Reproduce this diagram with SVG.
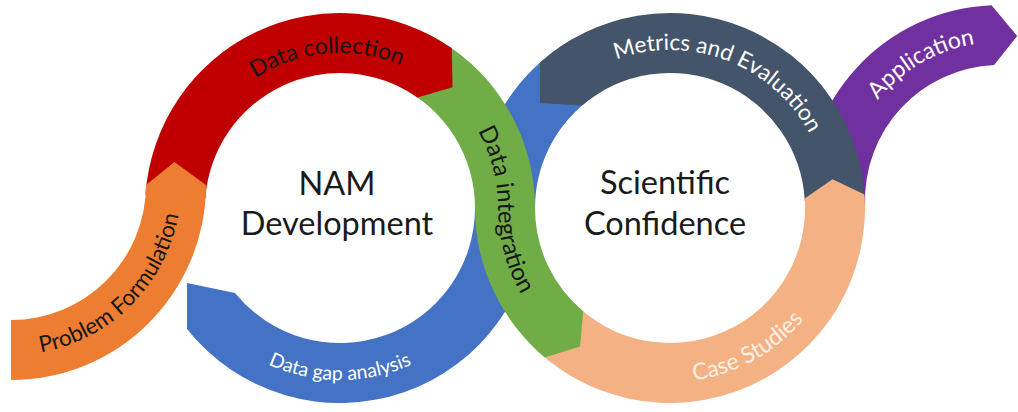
<svg xmlns="http://www.w3.org/2000/svg" xmlns:xlink="http://www.w3.org/1999/xlink" width="1018" height="412" viewBox="0 0 1018 412">
<defs>
<style>
.lbl{font-family:Lato,"Open Sans","Liberation Sans",sans-serif;font-size:22px}
.dark{fill:#161616}
.light{fill:#ffffff}
.center{font-family:Lato,"Open Sans","Liberation Sans",sans-serif;font-size:32.5px;fill:#1a1a1a;text-anchor:middle}
</style>
<path id="tp-red" d="M 240.4,89.3 A 155 155 0 0 1 417.5,73.8"/>
<path id="tp-green" d="M 476.8,129 A 158 158 0 0 1 498,208 A 172 172 0 0 0 548.4,329.6"/>
<path id="tp-blue" d="M 241.3,348.9 A 172 172 0 0 0 438.7,348.9"/>
<path id="tp-orange" d="M 25.8,354.4 A 170 170 0 0 0 180.4,199.8"/>
<path id="tp-navy" d="M 593.4,69.8 A 158 158 0 0 1 819.4,156.6"/>
<path id="tp-peach" d="M 652,381 A 174 174 0 0 0 826.4,284.3"/>
<path id="tp-purple" d="M 857,133 A 158 158 0 0 1 1013.8,42.6"/>
</defs>
<rect width="1018" height="412" fill="#ffffff"/>

<g id="application">
<path d="M 805.1,206.8 A 195 195 0 0 1 991.5,5.2 L 1017.2,35.9 L 994.1,65.1 A 135 135 0 0 0 865.1,204.7 Z" fill="#7030a0"/>
<text class="lbl light" style="font-size:23px"><textPath xlink:href="#tp-purple" href="#tp-purple" startOffset="50%" text-anchor="middle">Application</textPath></text>
</g>

<g id="data-gap-analysis">
<path d="M 187,328.9 A 195 195 0 0 0 535,208 A 135 135 0 0 1 602.5,91.1 L 572.5,39.1 A 195 195 0 0 0 475,208 A 135 135 0 0 1 235,292.9 L 187,283 Z" fill="#4472c4"/>
<text class="lbl light" style="font-size:19.5px"><textPath xlink:href="#tp-blue" href="#tp-blue" startOffset="50%" text-anchor="middle">Data gap analysis</textPath></text>
</g>

<g id="metrics-and-evaluation">
<path d="M 540,62.7 A 195 195 0 0 1 864.7,197.8 L 804.8,200.9 A 135 135 0 0 0 582,105.6 L 540,103 Z" fill="#44546a"/>
<text class="lbl light" style="font-size:22.5px"><textPath xlink:href="#tp-navy" href="#tp-navy" startOffset="50%" text-anchor="middle">Metrics and Evaluation</textPath></text>
</g>

<g id="case-studies">
<path d="M 527.4,341 A 195 195 0 0 0 864.5,194.4 L 832.5,179.3 L 804.7,198.6 A 135 135 0 0 1 571.3,300.1 Z" fill="#f4b183"/>
<text class="lbl" fill="#fdf1e8" style="font-size:23px"><textPath xlink:href="#tp-peach" href="#tp-peach" startOffset="50%" text-anchor="middle">Case Studies</textPath></text>
</g>

<g id="data-integration">
<path d="M 425.5,32.7 A 195 195 0 0 1 535,208 A 135 135 0 0 0 583.2,311.4 L 580.1,346.4 L 544.7,357.4 A 195 195 0 0 1 475,208 A 135 135 0 0 0 399.2,86.7 Z" fill="#70ad47"/>
<text class="lbl dark" style="font-size:24px"><textPath xlink:href="#tp-green" href="#tp-green" startOffset="2">Data integration</textPath></text>
</g>

<g id="data-collection">
<path d="M 145.5,194.4 A 195 195 0 0 1 451.8,48.3 L 452.5,87.3 L 417.4,97.4 A 135 135 0 0 0 205.3,198.6 Z" fill="#c00000"/>
<text class="lbl dark" style="font-size:23px"><textPath xlink:href="#tp-red" href="#tp-red" startOffset="50%" text-anchor="middle">Data collection</textPath></text>
</g>

<g id="problem-formulation">
<path d="M 11,380 A 195 195 0 0 0 206,185 L 174.4,162 L 146,185 A 135 135 0 0 1 11,320 Z" fill="#ed7d31"/>
<text class="lbl dark" style="font-size:22.5px"><textPath xlink:href="#tp-orange" href="#tp-orange" startOffset="50%" text-anchor="middle">Problem Formulation</textPath></text>
</g>

<g id="nam-development">
<text class="center" x="337" y="195">NAM</text>
<text class="center" x="337" y="235">Development</text>
</g>

<g id="scientific-confidence">
<text class="center" x="665" y="194">Scientific</text>
<text class="center" x="665" y="235">Confidence</text>
</g>
</svg>
